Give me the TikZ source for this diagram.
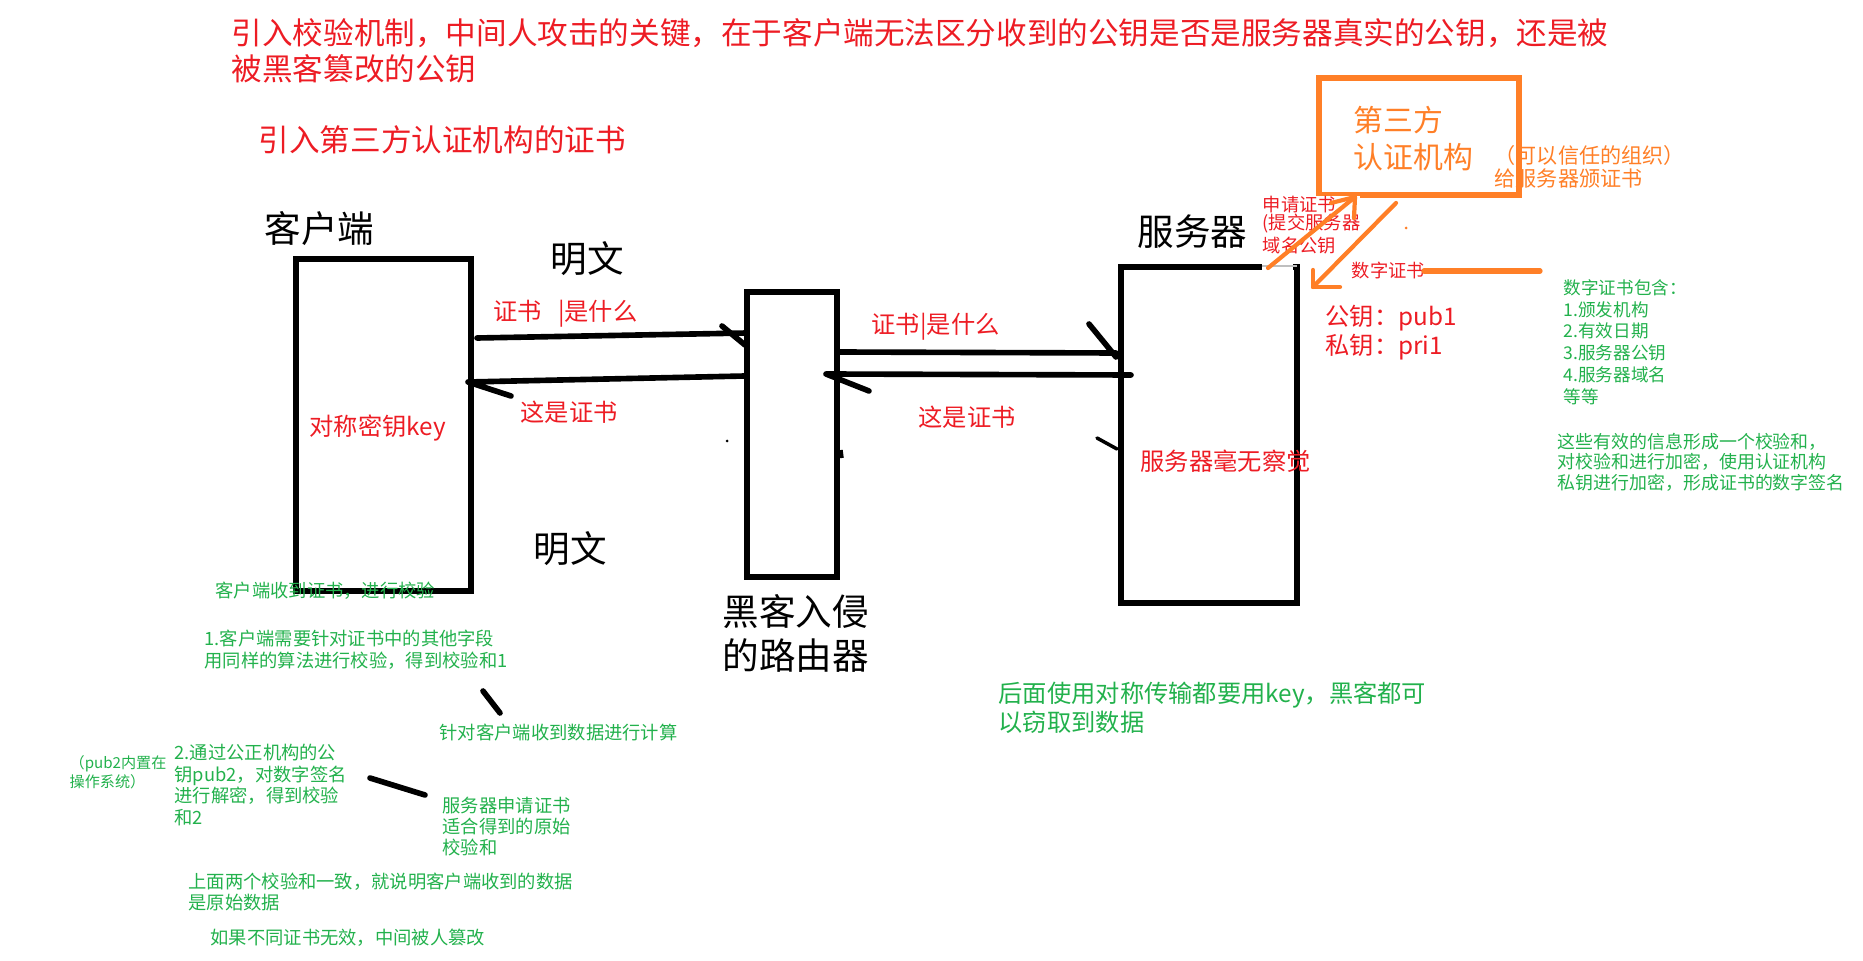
\documentclass[tikz,border=0pt]{standalone}
\usepackage{xcolor}
\usepackage{fontspec}
\usepackage{tikz}
\usetikzlibrary{positioning, calc}

\newfontfamily\cjk{Noto Sans CJK SC}
\newcommand{\zhsize}[2]{\cjk\fontsize{#1}{#2}\selectfont}

\definecolor{mspred}{RGB}{237,28,36}
\definecolor{mspgreen}{RGB}{34,177,76}
\definecolor{msporange}{RGB}{255,127,39}

\tikzset{
  box/.style={draw, line width=1.7pt, inner sep=0pt},
  hand/.style={line width=1.6pt, line cap=round, line join=round},
  orangepen/.style={msporange, line width=1.2pt, line cap=round, line join=round},
  txt/.style={inner sep=0pt, anchor=west, align=left},
  bigtxt/.style={txt, font=\zhsize{10.4}{#1}}, bigtxt/.default=12.5,
  redbig/.style={txt, text=mspred, font=\zhsize{8.7}{10.2}},
  redmid/.style={txt, text=mspred, font=\zhsize{6.9}{8.2}},
  redsmall/.style={txt, text=mspred, font=\zhsize{5.2}{5.1}},
  greensmall/.style={txt, text=mspgreen, font=\zhsize{5.2}{#1}}, greensmall/.default=6.2,
  greenmid/.style={txt, text=mspgreen, font=\zhsize{6.9}{8.2}},
  greentiny/.style={txt, text=mspgreen, font=\zhsize{4.3}{5.4}},
}

\begin{document}
\begin{tikzpicture}[x=0.01cm, y=-0.01cm]

\useasboundingbox (0,0) rectangle (1863,961);

\node[box, minimum width=1.75cm, minimum height=3.32cm] (client) at (383.5,425) {};
\node[box, minimum width=0.90cm, minimum height=2.85cm] (router) at (792,434.5) {};
\node[box, minimum width=1.76cm, minimum height=3.36cm] (server) at (1209,435) {};
\node[box, draw=msporange, minimum width=2.00cm, minimum height=1.17cm] (ca) at (1419,136.5) {};

\node[redbig] (title) at (231,51) {引入校验机制，中间人攻击的关键，在于客户端无法区分收到的公钥是否是服务器真实的公钥，还是被\\被黑客篡改的公钥};
\node[redbig] (thirdparty) at (258,140) {引入第三方认证机构的证书};

\node[bigtxt] (clientlbl) at (264,229) {客户端};
\node[bigtxt] (plaintop) at (550,259) {明文};
\node[bigtxt] (plainbot) at (533,549) {明文};
\node[bigtxt] (routerlbl) at (722,633) {黑客入侵\\的路由器};
\node[bigtxt] (serverlbl) at (1137,232) {服务器};

\node[txt, text=msporange, font=\zhsize{8.5}{10.5}] (catext) at (1353,138.5) {第三方\\认证机构};
\node[txt, text=msporange, font=\zhsize{6.0}{6.5}] (canote) at (1494,166.5) {（可以信任的组织）\\给服务器颁证书};

\fill[white] (1262,262) rectangle (1293,271);
\draw[gray!50, line width=0.4pt] (1262,266) -- (1297,266);
\node[redsmall, fill=white] (apply) at (1262,225) {申请证书\\(提交服务器\\域名公钥};
\node[redsmall] (digicert) at (1351,271) {数字证书};
\node[redmid] (keys) at (1325,332.5) {公钥：pub1\\私钥：pri1};

\node[txt, text=mspgreen, font=\zhsize{5.0}{6.2}] (contains) at (1563,342) {数字证书包含：\\1.颁发机构\\2.有效日期\\3.服务器公钥\\4.服务器域名\\等等};
\node[txt, text=mspgreen, font=\zhsize{5.1}{5.85}] (checksum) at (1557,462) {这些有效的信息形成一个校验和，\\对校验和进行加密，使用认证机构\\私钥进行加密，形成证书的数字签名};

\node[redmid] (ask1) at (493,314) {证书\hspace{4.5pt}|是什么};
\node[redmid] (reply1) at (520,412) {这是证书};
\node[redmid] (ask2) at (871,327) {证书|是什么};
\node[redmid] (reply2) at (918,417) {这是证书};
\node[redmid] (symkey) at (309,428) {对称密钥key};
\node[redmid] (unaware) at (1140,461) {服务器毫无察觉};

\node[greensmall] (verify) at (215,591) {客户端收到证书，进行校验};
\node[greensmall=6.3] (step1) at (204,650) {1.客户端需要针对证书中的其他字段\\用同样的算法进行校验，得到校验和1};
\node[greensmall] (calcnote) at (439,733) {针对客户端收到数据进行计算};
\node[greentiny] (osnote) at (69,772) {（pub2内置在\\操作系统）};
\node[greensmall] (step2) at (174,785) {2.通过公正机构的公\\钥pub2，对数字签名\\进行解密，得到校验\\和2};
\node[greensmall=6.1] (orignote) at (442,826.5) {服务器申请证书\\适合得到的原始\\校验和};
\node[greensmall=5.7] (same) at (188,892) {上面两个校验和一致，就说明客户端收到的数据\\是原始数据};
\node[greensmall] (differ) at (210,938) {如果不同证书无效，中间被人篡改};
\node[greenmid] (later) at (998,707.5) {后面使用对称传输都要用key，黑客都可\\以窃取到数据};

\coordinate (q1s) at (477,338);
\coordinate (q1e) at (747,333);
\coordinate (r1s) at (745,376);
\coordinate (r1e) at (468,382);
\coordinate (q2s) at (838,352);
\coordinate (q2e) at (1116,353);
\coordinate (r2s) at (1131,375);
\coordinate (r2e) at (826,374);

\draw[hand] (q1s) -- (q1e);
\draw[hand] (722,326) -- (745,345);
\draw[hand] (r1s) -- (r1e) -- (511,396);
\draw[hand] (q2s) -- (q2e);
\draw[hand] (1089,324) -- (1116,357);
\draw[hand] (r2s) -- (r2e) -- (869,391);

\draw[line width=1pt, line cap=round] (1097,438) -- (1117,449);
\draw[line width=1pt] (841,450) -- (842,458);
\fill (727,441) circle (1.5);

\draw[hand] (483,691) -- (500,713);
\draw[hand] (370,778) -- (425,795);

\coordinate (o1s) at (1268,268);
\coordinate (o1e) at (1355,197);
\coordinate (o2s) at (1396,203);
\coordinate (o2e) at (1313,287);

\draw[orangepen] (o1s) -- (o1e);
\draw[orangepen] (1331,203) -- (o1e) -- (1354,218);
\draw[orangepen] (o2s) -- (o2e);
\draw[orangepen] (1313,270) -- (o2e) -- (1340,287);
\fill[msporange] (1406,228) circle (1.5);
\draw[orangepen, line width=1.5pt] (1424,271) -- (1540,271);

\end{tikzpicture}
\end{document}
